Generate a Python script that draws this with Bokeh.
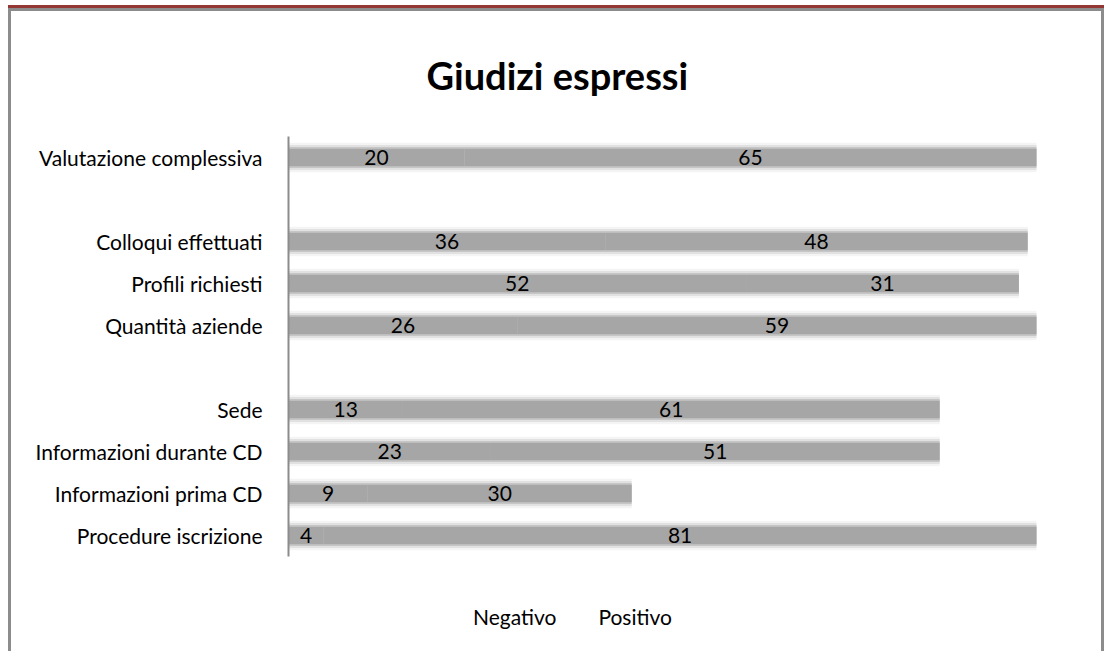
from bokeh.plotting import figure
from bokeh.models import ColumnDataSource, FactorRange, Range1d, Legend, LegendItem
from bokeh.core.properties import value
from bokeh.embed import file_html
from bokeh.resources import INLINE

# ---- data ----
categories = ["Valutazione complessiva", "Colloqui effettuati", "Profili richiesti",
              "Quantità aziende", "Sede", "Informazioni durante CD",
              "Informazioni prima CD", "Procedure iscrizione"]
negativo = [20, 36, 52, 26, 13, 23, 9, 4]
positivo = [65, 48, 31, 59, 61, 51, 30, 81]
# display order top -> bottom, blanks are spacer rows (last two hold the legend)
row_order = ["Valutazione complessiva", " ", "Colloqui effettuati", "Profili richiesti",
             "Quantità aziende", "  ", "Sede", "Informazioni durante CD",
             "Informazioni prima CD", "Procedure iscrizione", "   ", "    "]
series_names = ["Negativo", "Positivo"]
title_text = "Giudizi espressi"

FONT = "Lato"
BAR = "#a6a6a6"

src = ColumnDataSource(dict(
    cat=categories,
    zero=[0] * len(categories),
    neg=list(negativo),
    tot=[n + q for n, q in zip(negativo, positivo)],
    neg_mid=[n / 2 for n in negativo],
    pos_mid=[n + q / 2 for n, q in zip(negativo, positivo)],
    neg_lbl=[str(n) for n in negativo],
    pos_lbl=[str(q) for q in positivo],
))

p = figure(width=1096, height=643, output_backend="svg", toolbar_location=None,
           y_range=FactorRange(*reversed(row_order), range_padding=0),
           x_range=Range1d(0, 90),
           min_border_left=277, min_border_right=27, min_border_top=125, min_border_bottom=14)
p.styles = {"margin-left": "8px", "margin-top": "8px",
            "border-left": "3px solid #8c8c8c", "border-right": "3px solid #8c8c8c",
            "border-top": "3px solid #8c8c8c", "box-shadow": "0 -3px 0 0 #953735"}

# soft halo to mimic the blurred bars
for h, a in [(0.70, 0.12), (0.60, 0.25), (0.50, 0.45)]:
    p.hbar(y="cat", left="zero", right="tot", height=h, source=src,
           fill_color=BAR, fill_alpha=a, line_color=None)
p.hbar(y="cat", left="zero", right="neg", height=0.42, source=src,
       fill_color=BAR, line_color=None)
p.hbar(y="cat", left="neg", right="tot", height=0.42, source=src,
       fill_color=BAR, line_color=None)

for xcol, tcol in [("neg_mid", "neg_lbl"), ("pos_mid", "pos_lbl")]:
    p.text(x=xcol, y="cat", text=tcol, source=src, text_align="center",
           text_baseline="middle", text_font=value(FONT), text_font_size="21px",
           text_color="#000000")

p.xaxis.visible = False
p.xgrid.visible = False
p.ygrid.visible = False
p.outline_line_color = None
p.yaxis.bounds = (2, len(row_order))
p.yaxis.axis_line_color = "#8c8c8c"
p.yaxis.axis_line_width = 2
p.yaxis.major_tick_line_color = None
p.yaxis.minor_tick_line_color = None
p.yaxis.major_label_text_font = FONT
p.yaxis.major_label_text_font_size = "21px"
p.yaxis.major_label_text_color = "#000000"
p.yaxis.major_label_standoff = 20

p.title.text = title_text
p.title.text_font = FONT
p.title.text_font_style = "bold"
p.title.text_font_size = "38px"
p.title.text_color = "#000000"
p.title.align = "left"
p.title.offset = 138
p.title.standoff = 77

d1 = p.scatter(x=[], y=[], fill_alpha=0, line_alpha=0)
d2 = p.scatter(x=[], y=[], fill_alpha=0, line_alpha=0)
legend = Legend(items=[LegendItem(label=series_names[0], renderers=[d1]),
                       LegendItem(label=series_names[1], renderers=[d2])],
                orientation="horizontal", location=(184, 11),
                glyph_width=1, glyph_height=1, label_standoff=0, padding=0,
                spacing=41, border_line_color=None, background_fill_alpha=0,
                label_text_font=FONT, label_text_font_size="21px",
                label_text_color="#000000")
p.add_layout(legend, "center")

open("out.html", "w").write(file_html(p, INLINE))
